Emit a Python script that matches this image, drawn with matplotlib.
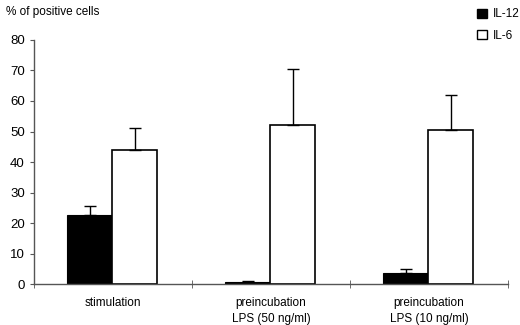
import numpy as np
import matplotlib.pyplot as plt
from matplotlib.patches import Patch

plt.rcParams['font.family'] = ['Liberation Sans', 'DejaVu Sans']

categories = ['stimulation', 'preincubation\nLPS (50 ng/ml)', 'preincubation\nLPS (10 ng/ml)']
il12 = [22.5, 0.7, 3.5]
il12_err = [3.0, 0.3, 1.5]
il6 = [44.0, 52.0, 50.5]
il6_err = [7.0, 18.5, 11.5]

fig = plt.figure(figsize=(5.2, 3.25), dpi=100)
ax = fig.add_axes([0.065, 0.126, 0.912, 0.751])

x = np.arange(len(categories))
w = 0.285
ax.bar(x - w / 2 - 0.005, il12, w, color='black', edgecolor='black', linewidth=0.8,
       yerr=[np.zeros(3), il12_err], error_kw=dict(ecolor='black', elinewidth=1, capsize=4, capthick=1))
ax.bar(x + w / 2 - 0.005, il6, w, color='white', edgecolor='black', linewidth=1.2,
       yerr=[np.zeros(3), il6_err], error_kw=dict(ecolor='black', elinewidth=1, capsize=4, capthick=1))

ax.set_xlim(-0.5, 2.5)
ax.set_ylim(0, 80)
ax.set_yticks(range(0, 81, 10))
ax.set_xticks(x)
ax.set_xticklabels(categories, fontsize=8.5, linespacing=1.5)
ax.set_xticks([-0.5, 0.5, 1.5, 2.5], minor=True)
ax.tick_params(axis='x', which='major', length=0, pad=9)
ax.tick_params(axis='x', which='minor', length=6, direction='inout', color='#555555')
ax.tick_params(axis='y', labelsize=9.5, length=3, color='#555555', direction='out')

for s in ['top', 'right']:
    ax.spines[s].set_visible(False)
for s in ['left', 'bottom']:
    ax.spines[s].set_color('#555555')
    ax.spines[s].set_linewidth(1)

fig.text(0.012, 0.962, '% of positive cells', fontsize=8.5, va='center', ha='left')

handles = [Patch(facecolor='black', edgecolor='black', label='IL-12'),
           Patch(facecolor='white', edgecolor='black', label='IL-6')]
fig.legend(handles=handles, loc='upper left', bbox_to_anchor=(0.918, 0.975), frameon=False,
           borderpad=0, borderaxespad=0,
           fontsize=8.5, handlelength=0.8, handleheight=0.8, handletextpad=0.5, labelspacing=0.8)

fig.savefig('out.png', dpi=100)
